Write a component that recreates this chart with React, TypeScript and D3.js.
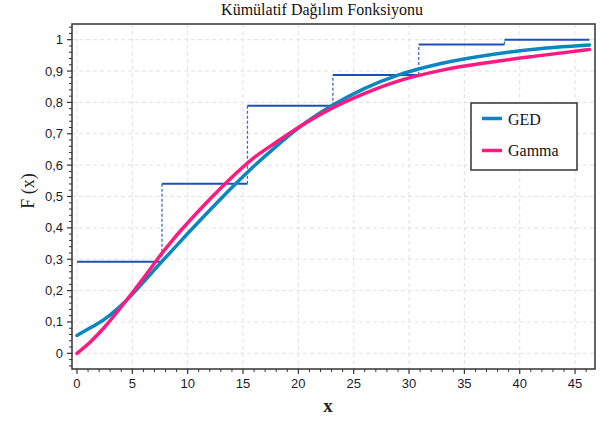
import React from "react";
import * as d3 from "d3";

// Sample points of the two fitted CDF curves
const xs = [0, 1.25, 2.5, 3.75, 5, 6.25, 7.5, 8.75, 10, 11.5, 13, 14.5, 16, 18, 20, 23, 26, 29, 33, 37.5, 42, 46.3];
const ged = [0.057, 0.082, 0.109, 0.145, 0.188, 0.237, 0.286, 0.334, 0.382, 0.438, 0.493, 0.546, 0.597, 0.66, 0.718, 0.789, 0.845, 0.887, 0.925, 0.953, 0.972, 0.983];
const gamma = [0.0, 0.038, 0.084, 0.137, 0.193, 0.251, 0.311, 0.366, 0.416, 0.473, 0.527, 0.578, 0.624, 0.673, 0.72, 0.781, 0.829, 0.868, 0.903, 0.929, 0.95, 0.969];

// Empirical step function: bin edges and cumulative levels
const stepEdges = [0, 7.68, 15.4, 23.12, 30.88, 38.62, 46.3];
const stepLevels = [0.292, 0.541, 0.789, 0.887, 0.985, 1.0];

const xTicks = [0, 5, 10, 15, 20, 25, 30, 35, 40, 45];
const yTicks = [0, 0.1, 0.2, 0.3, 0.4, 0.5, 0.6, 0.7, 0.8, 0.9, 1];

const title = "Kümülatif Dağılım Fonksiyonu";
const legendNames = ["GED", "Gamma"];

const W = 600;
const H = 423;
const L = 72, R = 595, T = 24, B = 369;

const GED_COLOR = "#0a86c0";
const GAMMA_COLOR = "#ff1a80";
const STEP_COLOR = "#1f50b0";

export default function App() {
  const x = d3.scaleLinear().domain([-0.45, 46.8]).range([L, R]);
  const y = d3.scaleLinear().domain([-0.05, 1.05]).range([B, T]);

  const line = d3
    .line<number>()
    .x((_, i) => x(xs[i]))
    .y((d) => y(d))
    .curve(d3.curveMonotoneX);

  const xMinor = d3.range(0, 47, 1).filter((v) => v % 5 !== 0);
  const yMinor = d3.range(-0.04, 1.05, 0.02).filter((v) => Math.abs(Math.round(v * 10) - v * 10) > 0.01);

  const fmt = (v: number) => String(+v.toFixed(1)).replace(".", ",");

  const gridColor = "#e2e2e2";

  return (
    <svg
      width={W}
      height={H}
      style={{ position: "absolute", left: 0, top: 0, background: "#fff" }}
      fontFamily="'Liberation Sans', Arial, sans-serif"
    >
      <rect x={0} y={0} width={W} height={H} fill="#fff" />
      <text
        x={322}
        y={15}
        textAnchor="middle"
        fontFamily="'Liberation Serif', 'Times New Roman', serif"
        fontSize={16}
        fill="#111"
      >
        {title}
      </text>

      {/* grid */}
      {xTicks.map((t) => (
        <line key={"gx" + t} x1={x(t)} x2={x(t)} y1={T} y2={B} stroke={gridColor} strokeDasharray="4,3" />
      ))}
      {yTicks.map((t) => (
        <line key={"gy" + t} x1={L} x2={R} y1={y(t)} y2={y(t)} stroke={gridColor} strokeDasharray="4,3" />
      ))}

      {/* step function */}
      {stepLevels.map((lv, i) => (
        <line
          key={"sh" + i}
          x1={x(stepEdges[i])}
          x2={x(stepEdges[i + 1])}
          y1={y(lv)}
          y2={y(lv)}
          stroke={STEP_COLOR}
          strokeWidth={2}
        />
      ))}
      {stepLevels.slice(1).map((lv, i) => (
        <line
          key={"sv" + i}
          x1={x(stepEdges[i + 1])}
          x2={x(stepEdges[i + 1])}
          y1={y(stepLevels[i])}
          y2={y(lv)}
          stroke="#3a6cc0"
          strokeWidth={1.3}
          strokeDasharray="3,2"
        />
      ))}

      {/* fitted curves */}
      <path d={line(ged) || ""} fill="none" stroke={GED_COLOR} strokeWidth={3.5} strokeLinecap="round" />
      <path d={line(gamma) || ""} fill="none" stroke={GAMMA_COLOR} strokeWidth={3.5} strokeLinecap="round" />

      {/* frame */}
      <rect x={L} y={T} width={R - L} height={B - T} fill="none" stroke="#333" strokeWidth={1.5} />

      {/* x axis ticks */}
      {xTicks.map((t) => (
        <g key={"xt" + t}>
          <line x1={x(t)} x2={x(t)} y1={B} y2={B + 5} stroke="#333" strokeWidth={1.2} />
          <text x={x(t)} y={B + 19} textAnchor="middle" fontSize={13} fill="#1a1a2e">
            {t}
          </text>
        </g>
      ))}
      {xMinor.map((t) => (
        <line key={"xm" + t} x1={x(t)} x2={x(t)} y1={B} y2={B + 3} stroke="#333" strokeWidth={1} />
      ))}

      {/* y axis ticks */}
      {yTicks.map((t) => (
        <g key={"yt" + t}>
          <line x1={L - 5} x2={L} y1={y(t)} y2={y(t)} stroke="#333" strokeWidth={1.2} />
          <text x={L - 9} y={y(t) + 4.5} textAnchor="end" fontSize={13} fill="#1a1a2e">
            {fmt(t)}
          </text>
        </g>
      ))}
      {yMinor.map((t, i) => (
        <line key={"ym" + i} x1={L - 3} x2={L} y1={y(t)} y2={y(t)} stroke="#333" strokeWidth={1} />
      ))}

      {/* axis titles */}
      <text
        x={328}
        y={412}
        textAnchor="middle"
        fontFamily="'Liberation Serif', 'Times New Roman', serif"
        fontWeight="bold"
        fontSize={19}
        fill="#222"
      >
        x
      </text>
      <text
        transform="translate(34,191) rotate(-90)"
        textAnchor="middle"
        fontFamily="'Liberation Serif', 'Times New Roman', serif"
        fontSize={18}
        fill="#222"
      >
        F (x)
      </text>

      {/* legend */}
      <rect x={471} y={103} width={106} height={67} fill="#fff" stroke="#333" strokeWidth={1.5} />
      {legendNames.map((name, i) => (
        <g key={name}>
          <line
            x1={482}
            x2={502}
            y1={118.5 + i * 32}
            y2={118.5 + i * 32}
            stroke={i === 0 ? GED_COLOR : GAMMA_COLOR}
            strokeWidth={3.5}
          />
          <text
            x={508}
            y={125 + i * 31}
            fontFamily="'Liberation Serif', 'Times New Roman', serif"
            fontSize={16}
            fill="#111"
          >
            {name}
          </text>
        </g>
      ))}
    </svg>
  );
}
